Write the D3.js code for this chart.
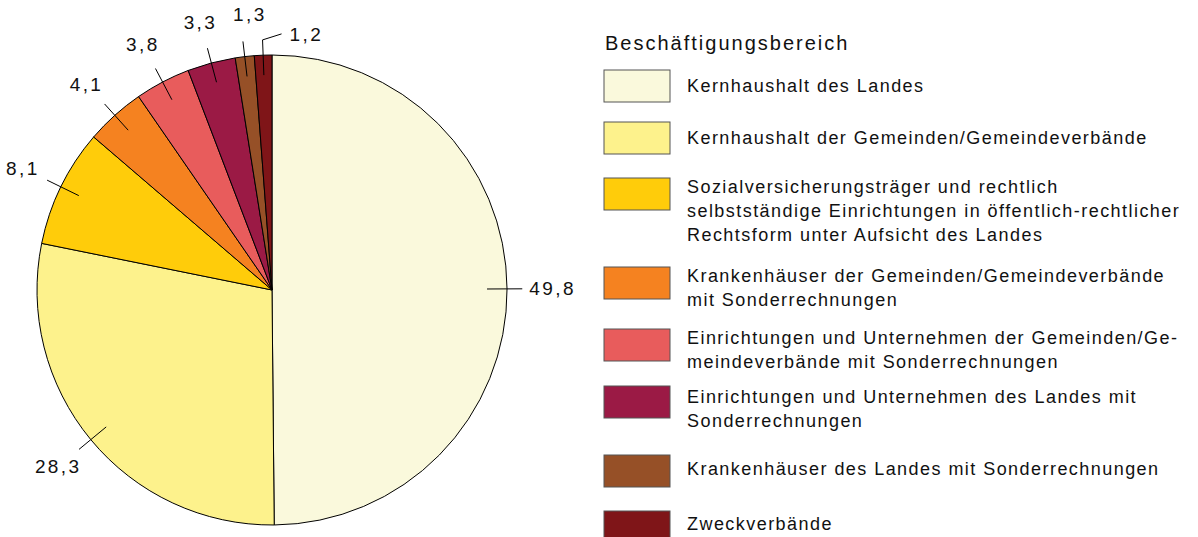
<!DOCTYPE html>
<html lang="de">
<head>
  <meta charset="utf-8">
  <title>Beschäftigungsbereich</title>
  <style>
    body { margin: 0; background: #fff; font-family: "Liberation Sans", Arial, sans-serif; }
    svg text { fill: #111; }
  </style>
</head>
<body>
  <svg id="chart" width="1198" height="537"></svg>
  <script src="https://d3js.org/d3.v7.min.js"></script>
  <script>
    // Data
    var categories = [
      "Kernhaushalt des Landes",
      "Kernhaushalt der Gemeinden/Gemeindeverbände",
      "Sozialversicherungsträger und rechtlich selbstständige Einrichtungen in öffentlich-rechtlicher Rechtsform unter Aufsicht des Landes",
      "Krankenhäuser der Gemeinden/Gemeindeverbände mit Sonderrechnungen",
      "Einrichtungen und Unternehmen der Gemeinden/Gemeindeverbände mit Sonderrechnungen",
      "Einrichtungen und Unternehmen des Landes mit Sonderrechnungen",
      "Krankenhäuser des Landes mit Sonderrechnungen",
      "Zweckverbände"
    ];
    // legend text as broken in the original
    var legendLines = [
      ["Kernhaushalt des Landes"],
      ["Kernhaushalt der Gemeinden/Gemeindeverbände"],
      ["Sozialversicherungsträger und rechtlich", "selbstständige Einrichtungen in öffentlich-rechtlicher", "Rechtsform unter Aufsicht des Landes"],
      ["Krankenhäuser der Gemeinden/Gemeindeverbände", "mit Sonderrechnungen"],
      ["Einrichtungen und Unternehmen der Gemeinden/Ge-", "meindeverbände mit Sonderrechnungen"],
      ["Einrichtungen und Unternehmen des Landes mit", "Sonderrechnungen"],
      ["Krankenhäuser des Landes mit Sonderrechnungen"],
      ["Zweckverbände"]
    ];
    var values = [49.8, 28.3, 8.1, 4.1, 3.8, 3.3, 1.3, 1.2];
    var colors = ["#faf9dc", "#fdf28c", "#ffcc0a", "#f58220", "#e85c5c", "#9b1a45", "#965027", "#7f1518"];
    var legendTitle = "Beschäftigungsbereich";

    var svg = d3.select("#chart");
    var cx = 272, cy = 290, r = 235;

    var pie = d3.pie().sort(null).value(function (d) { return d; });
    var arcs = pie(values);
    var arc = d3.arc().innerRadius(0).outerRadius(r);

    var g = svg.append("g").attr("transform", "translate(" + cx + "," + cy + ")");

    g.selectAll("path.slice")
      .data(arcs)
      .enter().append("path")
      .attr("class", "slice")
      .attr("d", arc)
      .attr("fill", function (d, i) { return colors[i]; })
      .attr("stroke", "#000")
      .attr("stroke-width", 1);

    // point on circle at given radius for angle a (0 = top, clockwise)
    function pt(a, rad) { return [Math.sin(a) * rad, -Math.cos(a) * rad]; }
    function fmt(v) { return v.toFixed(1).replace(".", ","); }

    arcs.forEach(function (d, i) {
      var a = (d.startAngle + d.endAngle) / 2;
      var p1 = pt(a, r * 0.915), p2 = pt(a, r * 1.065), lp = pt(a, r * 1.18);
      var last = i === arcs.length - 1;
      if (last) {
        // smallest slice: leader bent to the right
        var p3 = [p2[0] + 19, p2[1] - 6];
        g.append("path")
          .attr("d", d3.line()([p1, p2, p3]))
          .attr("fill", "none").attr("stroke", "#000").attr("stroke-width", 1);
        lp = [p3[0] + 8, p3[1]];
      } else {
        g.append("line")
          .attr("x1", p1[0]).attr("y1", p1[1]).attr("x2", p2[0]).attr("y2", p2[1])
          .attr("stroke", "#000").attr("stroke-width", 1);
      }
      if (i === 6) lp = [lp[0] + 10, lp[1]];
      g.append("text")
        .attr("x", lp[0]).attr("y", lp[1])
        .attr("dy", "0.35em")
        .attr("text-anchor", last ? "start" : (i === 0 ? "start" : "middle"))
        .attr("dx", i === 0 ? -20 : 0)
        .style("font-size", "19px")
        .style("letter-spacing", "2.4px")
        .text(fmt(values[i]));
    });

    // Legend
    var legend = svg.append("g");
    legend.append("text")
      .attr("x", 605).attr("y", 50)
      .style("font-size", "20px")
      .style("letter-spacing", "2px")
      .text(legendTitle);

    var swatchY = [70, 122, 178, 267, 329, 386, 455, 511];
    var textY = [92, 144, 193, 282, 344, 403, 475, 530];
    var lineH = 24;

    categories.forEach(function (c, i) {
      legend.append("rect")
        .attr("x", 604).attr("y", swatchY[i])
        .attr("width", 66).attr("height", 32)
        .attr("fill", colors[i])
        .attr("stroke", "#555").attr("stroke-width", 1);
      var t = legend.append("text")
        .attr("x", 687).attr("y", textY[i])
        .style("font-size", "18px")
        .style("letter-spacing", "1.45px");
      legendLines[i].forEach(function (line, j) {
        t.append("tspan").attr("x", 687).attr("dy", j === 0 ? 0 : lineH).text(line);
      });
    });
  </script>
</body>
</html>
